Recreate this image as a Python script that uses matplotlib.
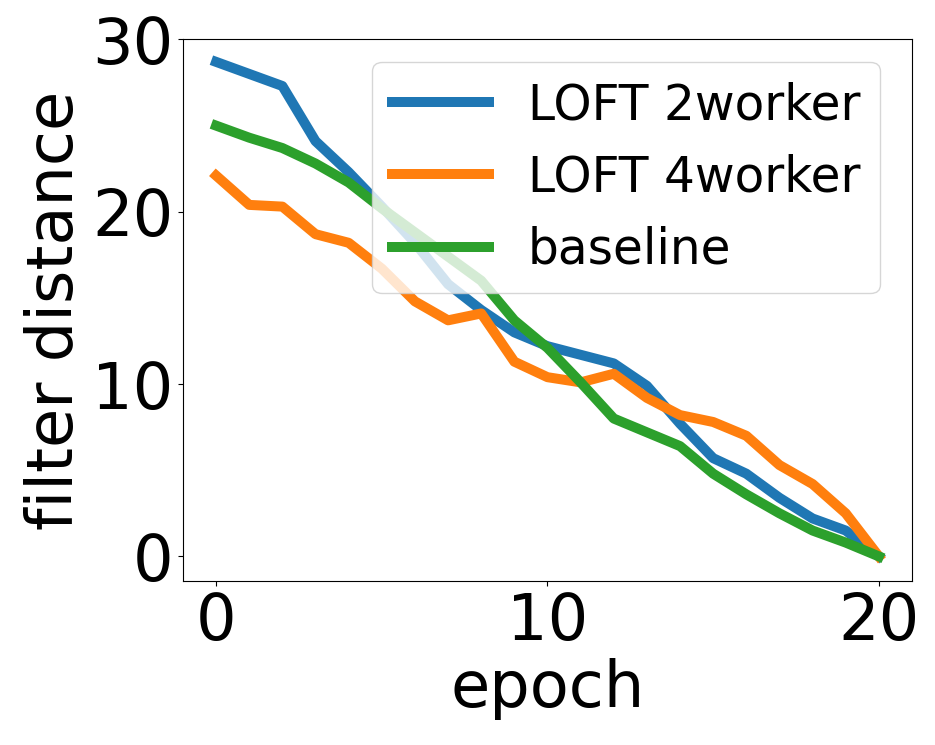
import matplotlib
matplotlib.use("Agg")
import matplotlib.pyplot as plt

epochs = list(range(21))
loft2 = [28.7, 28.0, 27.3, 24.1, 22.3, 20.3, 18.2, 15.8, 14.3, 13.0, 12.2,
         11.7, 11.2, 9.9, 7.7, 5.7, 4.8, 3.4, 2.2, 1.5, 0.0]
loft4 = [22.1, 20.4, 20.3, 18.7, 18.2, 16.7, 14.8, 13.7, 14.1, 11.3, 10.4,
         10.1, 10.6, 9.2, 8.2, 7.8, 7.0, 5.3, 4.2, 2.5, 0.0]
baseline = [25.0, 24.3, 23.7, 22.8, 21.7, 20.2, 18.8, 17.4, 16.0, 13.7, 12.1,
            10.1, 8.0, 7.2, 6.4, 4.8, 3.6, 2.5, 1.5, 0.8, 0.0]
labels = ["LOFT 2worker", "LOFT 4worker", "baseline"]

fig = plt.figure(figsize=(9.35, 7.45), dpi=100)
ax = fig.add_axes([0.1957, 0.2201, 0.9754 - 0.1957, 0.9477 - 0.2201])
lw = 7.2
ax.plot(epochs, loft2, color="#1f77b4", lw=lw, label=labels[0])
ax.plot(epochs, loft4, color="#ff7f0e", lw=lw, label=labels[1])
ax.plot(epochs, baseline, color="#2ca02c", lw=lw, label=labels[2])

ax.set_xticks([0, 10, 20])
ax.set_yticks([0, 10, 20, 30])
ax.tick_params(labelsize=46)
ax.set_xlabel("epoch", fontsize=46)
ax.set_ylabel("filter distance", fontsize=46)
ax.set_ylim(-1.43, 30.03)
ax.legend(loc="upper right", fontsize=35, borderaxespad=0,
          bbox_to_anchor=(0.956, 0.958))

fig.savefig("out.png", dpi=100)
